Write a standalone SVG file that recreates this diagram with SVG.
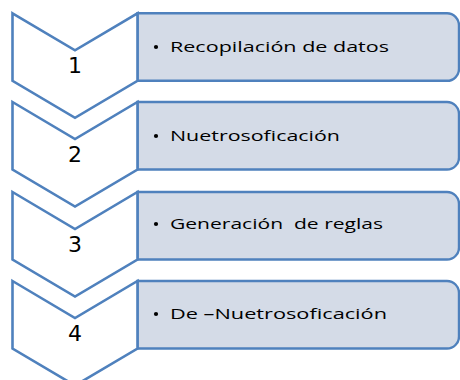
<svg xmlns="http://www.w3.org/2000/svg" width="460" height="380" viewBox="0 0 460 380">
<style>
.chev{fill:#ffffff;stroke:#4F81BD;stroke-width:2.6;stroke-linejoin:miter}
.box{fill:#D4DBE7;stroke:#4F81BD;stroke-width:2.4}
.num{font-family:"DejaVu Sans","Liberation Sans",sans-serif;font-size:22px;fill:#000;text-anchor:middle}
.lbl{font-family:"Open Sans","Liberation Sans",sans-serif;font-size:14px;fill:#000}
.dot{fill:#000}
</style>
<rect width="460" height="380" fill="#ffffff"/>
<g id="step1">
<path class="box" d="M137.5,13.3 H447 a12,12 0 0 1 12,12 V68.8 a12,12 0 0 1 -12,12 H137.5 Z"/>
<path class="chev" d="M12.5,13.3 L75,50.3 L137.5,13.3 V80.8 L75,117.8 L12.5,80.8 Z"/>
<text class="num" x="75" y="73">1</text>
<circle class="dot" cx="156" cy="47" r="2.1"/>
<text class="lbl" x="170" y="52" textLength="219" lengthAdjust="spacingAndGlyphs">Recopilación de datos</text>
</g>
<g id="step2">
<path class="box" d="M137.5,102 H447 a12,12 0 0 1 12,12 V157.5 a12,12 0 0 1 -12,12 H137.5 Z"/>
<path class="chev" d="M12.5,102 L75,139 L137.5,102 V169.5 L75,206.5 L12.5,169.5 Z"/>
<text class="num" x="75" y="162">2</text>
<circle class="dot" cx="156" cy="136" r="2.1"/>
<text class="lbl" x="170" y="141" textLength="170" lengthAdjust="spacingAndGlyphs">Nuetrosoficación</text>
</g>
<g id="step3">
<path class="box" d="M137.5,192 H447 a12,12 0 0 1 12,12 V247.5 a12,12 0 0 1 -12,12 H137.5 Z"/>
<path class="chev" d="M12.5,192 L75,229 L137.5,192 V259.5 L75,296.5 L12.5,259.5 Z"/>
<text class="num" x="75" y="252">3</text>
<circle class="dot" cx="156" cy="224" r="2.1"/>
<text class="lbl" x="170" y="229" textLength="213" lengthAdjust="spacingAndGlyphs" xml:space="preserve">Generación  de reglas</text>
</g>
<g id="step4">
<path class="box" d="M137.5,281 H447 a12,12 0 0 1 12,12 V336.5 a12,12 0 0 1 -12,12 H137.5 Z"/>
<path class="chev" d="M12.5,281 L75,318 L137.5,281 V348.5 L75,385.5 L12.5,348.5 Z"/>
<text class="num" x="75" y="341">4</text>
<circle class="dot" cx="156" cy="314" r="2.1"/>
<text class="lbl" x="170" y="319" textLength="217" lengthAdjust="spacingAndGlyphs">De –Nuetrosoficación</text>
</g>
<g id="connectors"></g>
</svg>
